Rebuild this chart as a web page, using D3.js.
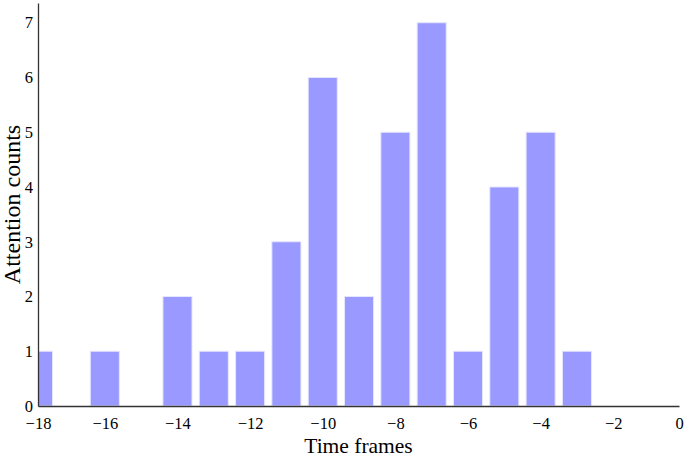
<!DOCTYPE html>
<html>
<head>
<meta charset="utf-8">
<script src="https://cdn.jsdelivr.net/npm/d3@7"></script>
<style>
  body { margin: 0; background: #fff; }
  text { font-family: "Liberation Serif", "DejaVu Serif", serif; fill: #000; }
</style>
</head>
<body>
<div id="vis"></div>
<script>
var frames = [-18, -17, -16, -15, -14, -13, -12, -11, -10, -9, -8, -7, -6, -5, -4, -3, -2, -1];
var counts = [1, 0, 1, 0, 2, 1, 1, 3, 6, 2, 5, 7, 1, 4, 5, 1, 0, 0];
var xTicks = [-18, -16, -14, -12, -10, -8, -6, -4, -2, 0];
var yTicks = [0, 1, 2, 3, 4, 5, 6, 7];

var width = 685, height = 458;
var margin = {left: 38, right: 6, top: 3, bottom: 52};

var svg = d3.select("#vis").append("svg")
    .attr("width", width)
    .attr("height", height);

// the visible window is a little narrower than [-18, 0]; edge values get clamped onto it
var x = d3.scaleLinear()
    .domain([-17.84, -0.19])
    .range([margin.left, width - margin.right])
    .clamp(true);
var y = d3.scaleLinear().domain([0, 7.36]).range([height - margin.bottom, margin.top]);

svg.append("clipPath").attr("id", "plot")
  .append("rect")
    .attr("x", margin.left).attr("y", margin.top)
    .attr("width", width - margin.right - margin.left)
    .attr("height", height - margin.bottom - margin.top);

var data = frames.map(function(f, i) { return {frame: f, count: counts[i]}; });
var barW = x(-9.6) - x(-10.4);

svg.append("g")
    .attr("clip-path", "url(#plot)")
  .selectAll("rect")
  .data(data.filter(function(d) { return d.count > 0; }))
  .enter().append("rect")
    .attr("x", function(d) { return x(d.frame) - barW / 2; })
    .attr("width", barW)
    .attr("y", function(d) { return y(d.count); })
    .attr("height", function(d) { return y(0) - y(d.count); })
    .attr("fill", "#9999ff")
    .attr("stroke", "#e6e6ff")
    .attr("stroke-width", 1);

var xAxis = svg.append("g")
    .attr("transform", "translate(0," + y(0) + ")")
    .call(d3.axisBottom(x).tickValues(xTicks).tickSize(0).tickPadding(11)
      .tickFormat(function(d) { return d < 0 ? "\u2212" + Math.abs(d) : d; }))
    .attr("font-size", 16.5)
    .attr("font-family", "Liberation Serif");
xAxis.select(".domain").attr("stroke", "#333").attr("stroke-width", 1.3);

var yAxis = svg.append("g")
    .attr("transform", "translate(" + margin.left + ",0)")
    .call(d3.axisLeft(y).tickValues(yTicks).tickSize(0).tickPadding(5))
    .attr("font-size", 16.5)
    .attr("font-family", "Liberation Serif");
yAxis.select(".domain").attr("stroke", "#333").attr("stroke-width", 1.3);

svg.append("text")
    .attr("x", (margin.left + width - margin.right) / 2)
    .attr("y", 453)
    .attr("text-anchor", "middle")
    .style("font-size", "21.5px")
    .text("Time frames");

svg.append("text")
    .attr("transform", "translate(20," + (height - margin.bottom + margin.top) / 2 + ") rotate(-90)")
    .attr("text-anchor", "middle")
    .style("font-size", "24px")
    .text("Attention counts");
</script>
</body>
</html>
